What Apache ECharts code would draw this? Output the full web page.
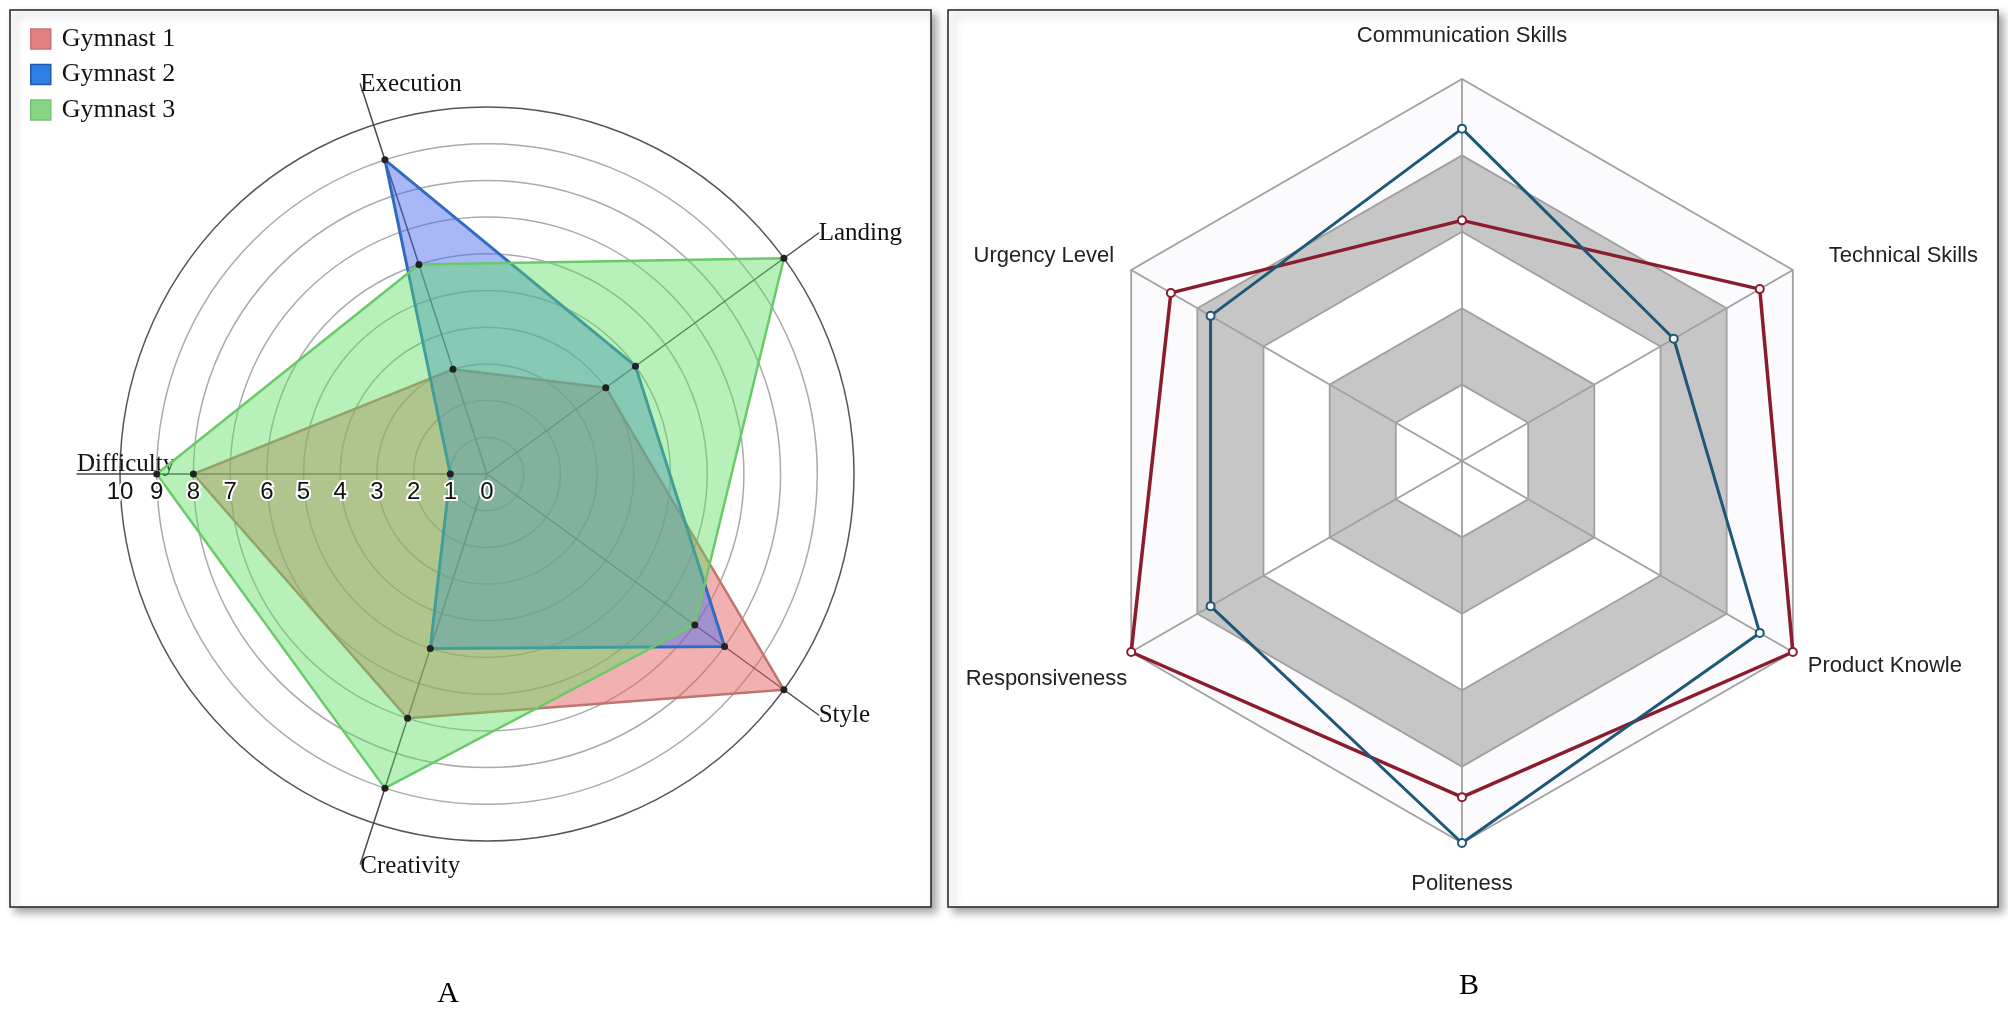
<!DOCTYPE html>
<html><head><meta charset="utf-8">
<script src="https://cdn.jsdelivr.net/npm/echarts@6/dist/echarts.min.js"></script>
<style>html,body{margin:0;padding:0;background:#fff;}#c{width:2008px;height:1021px;}</style>
</head><body><div id="c"></div>
<script>
// ---- Panel A data ----
const gymCategories = ['Difficulty', 'Creativity', 'Style', 'Landing', 'Execution'];
const gymnastNames = ['Gymnast 1', 'Gymnast 2', 'Gymnast 3'];
const gymnast1 = [8, 7, 10, 4, 3];
const gymnast2 = [1, 5, 8, 5, 9];
const gymnast3 = [9, 9, 7, 10, 6];
const gymMax = 10;

// ---- Panel B data ----
const skillCategories = ['Communication Skills', 'Urgency Level', 'Responsiveness', 'Politeness', 'Product Knowle', 'Technical Skills'];
const employeeRed = [63, 88, 100, 88, 100, 90];
const employeeBlue = [87, 76, 76, 100, 90, 64];
const skillMax = 100;

const panelLabels = ['A', 'B'];

const gymLine = ['#b47a72', '#2a6db5', '#6cc46c'];
const gymFill = ['rgba(228,100,100,0.5)', 'rgba(70,105,238,0.47)', 'rgba(90,222,95,0.44)'];
const gymLegend = ['#e08080', '#2f7fe6', '#86d686'];
const gymLegendBorder = ['#c87474', '#1d5aa6', '#74c274'];
const gymData = [gymnast1, gymnast2, gymnast3];

const chart = echarts.init(document.getElementById('c'), null, {renderer: 'canvas'});

const panelRect = (x, y, w, h) => ({
  type: 'rect', z: -10,
  shape: {x: x, y: y, width: w, height: h},
  style: {fill: '#fff', stroke: '#222', lineWidth: 1.5,
          shadowBlur: 8, shadowOffsetX: 5, shadowOffsetY: 5, shadowColor: 'rgba(0,0,0,0.35)'}
});

const serif = '"Liberation Serif", "Times New Roman", serif';
const sans = '"Liberation Sans", Arial, Helvetica, sans-serif';

// per-label padding for panel B names (top, right, bottom, left)
const skillNamePad = {
  'Communication Skills': [0, 0, 32, 0],
  'Urgency Level': [0, 17, 28, 0],
  'Responsiveness': [54, 4, 0, 0],
  'Politeness': [30, 0, 0, 0],
  'Product Knowle': [28, 0, 0, 15],
  'Technical Skills': [0, 0, 28, 36]
};
const skillRich = {};
skillCategories.forEach((c, i) => {
  skillRich['s' + i] = {fontFamily: sans, fontSize: 22, color: '#222', padding: skillNamePad[c]};
});

const option = {
  animation: false,
  backgroundColor: '#fff',
  graphic: [
    panelRect(10, 10, 921, 897),
    panelRect(948, 10, 1050, 897),
    {type: 'text', z: 10, style: {text: panelLabels[0], x: 448, y: 994, textAlign: 'center', textVerticalAlign: 'middle',
      font: '30px ' + serif, fill: '#000'}},
    {type: 'text', z: 10, style: {text: panelLabels[1], x: 1469, y: 986, textAlign: 'center', textVerticalAlign: 'middle',
      font: '30px ' + serif, fill: '#000'}}
  ],
  legend: {
    orient: 'vertical', left: 25, top: 21, itemWidth: 20, itemHeight: 20, itemGap: 9.5,
    icon: 'rect',
    textStyle: {fontFamily: serif, fontSize: 26, color: '#111', padding: [0, 0, 0, 6]},
    data: gymnastNames.map((n, i) => ({name: n, itemStyle: {color: gymLegend[i], borderColor: gymLegendBorder[i], borderWidth: 1.5}}))
  },
  radar: [
    {
      // data radar, panel A: rings
      center: [487, 474], radius: 367, startAngle: 180, shape: 'circle',
      splitNumber: 10,
      indicator: gymCategories.map(c => ({name: c, max: gymMax, min: 0})),
      axisName: {show: false},
      axisLine: {show: false},
      axisTick: {show: false},
      axisLabel: {show: false},
      splitArea: {show: false},
      splitLine: {lineStyle: {width: 1.5, color: ['#aaa','#aaa','#aaa','#aaa','#aaa','#aaa','#aaa','#aaa','#aaa','#aaa','#555']}}
    },
    {
      // spokes and names, panel A
      center: [487, 474], radius: 410, startAngle: 180, shape: 'circle',
      splitNumber: 1,
      indicator: gymCategories.map(c => ({name: c, max: 1, min: 0})),
      nameGap: 0,
      axisName: {color: '#111', fontFamily: serif, fontSize: 25, align: 'left',
        formatter: function (name) {
          if (name === 'Difficulty') return '{up|' + name + '}';
          if (name === 'Creativity') return '{dn|' + name + '}';
          return '{n|' + name + '}';
        },
        rich: {
          up: {fontFamily: serif, fontSize: 25, color: '#111', padding: [0, 0, 20, 0]},
          dn: {fontFamily: serif, fontSize: 25, color: '#111', padding: [6, 0, 0, 0]},
          n: {fontFamily: serif, fontSize: 25, color: '#111'}
        }
      },
      axisLine: {lineStyle: {color: '#4a4a4a', width: 1.5}},
      axisTick: {show: false},
      axisLabel: {show: false},
      splitArea: {show: false},
      splitLine: {show: false}
    },
    {
      // panel B
      center: [1462, 461], radius: 382, startAngle: 90, shape: 'polygon',
      splitNumber: 5,
      indicator: skillCategories.map(c => ({name: c, max: skillMax, min: 0})),
      nameGap: 0,
      axisName: {color: '#222', fontFamily: sans, fontSize: 22,
        formatter: function (name) { return '{s' + skillCategories.indexOf(name) + '|' + name + '}'; },
        rich: skillRich
      },
      axisLine: {lineStyle: {color: '#a0a0a0', width: 1.8}},
      axisTick: {show: false},
      axisLabel: {show: false},
      splitLine: {lineStyle: {color: '#a0a0a0', width: 1.8}},
      splitArea: {show: true, areaStyle: {color: ['#ffffff', '#c6c6c6', '#ffffff', '#c6c6c6', '#fbfafd'], opacity: 1}}
    },
    {
      // tick labels of panel A, drawn above the filled areas
      center: [487, 474], radius: 367, startAngle: 180, shape: 'circle', z: 10,
      splitNumber: 10,
      indicator: gymCategories.map((c, i) => i === 0
        ? {name: c, max: gymMax, min: 0, axisLabel: {show: true}}
        : {name: c, max: gymMax, min: 0}),
      axisName: {show: false},
      axisLine: {show: false},
      axisTick: {show: false},
      axisLabel: {show: false, showMinLabel: true, showMaxLabel: true, margin: 6, color: '#111', fontSize: 24,
        fontFamily: sans, textBorderColor: '#fff', textBorderWidth: 4},
      splitArea: {show: false},
      splitLine: {show: false}
    }
  ],
  series: gymData.map((vals, i) => ({
    type: 'radar', name: gymnastNames[i], radarIndex: 0,
    symbol: 'circle', symbolSize: 7,
    itemStyle: {color: '#222'},
    lineStyle: {color: gymLine[i], width: i === 1 ? 3 : 2.5},
    areaStyle: {color: gymFill[i], opacity: 1},
    data: [{name: gymnastNames[i], value: vals}]
  })).concat([
    {
      type: 'radar', name: 'Red', radarIndex: 2,
      symbol: 'circle', symbolSize: 8,
      itemStyle: {color: '#fff', borderColor: '#8a1c2e', borderWidth: 2},
      lineStyle: {color: '#8a1c2e', width: 3.5},
      data: [{name: 'Red', value: employeeRed}]
    },
    {
      type: 'radar', name: 'Blue', radarIndex: 2,
      symbol: 'circle', symbolSize: 8,
      itemStyle: {color: '#fff', borderColor: '#1d5878', borderWidth: 2},
      lineStyle: {color: '#1d5878', width: 3},
      data: [{name: 'Blue', value: employeeBlue}]
    }
  ])
};
chart.setOption(option);
</script>
</body></html>
